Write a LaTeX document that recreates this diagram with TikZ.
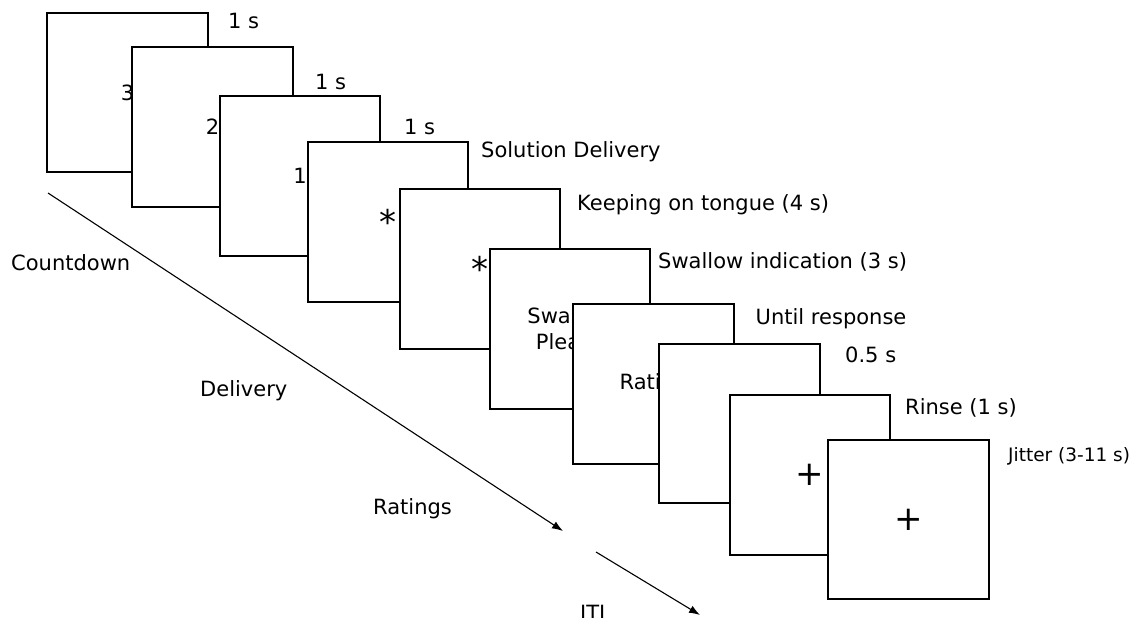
\documentclass[tikz,border=0pt]{standalone}
\usepackage{fontspec}
\setmainfont{DejaVu Sans}
\usetikzlibrary{arrows.meta}
\tikzset{
  screen/.style={draw, line width=2.3pt, fill=white, minimum width=160.5pt, minimum height=159.5pt, inner sep=0pt, font=\fontsize{21}{26}\selectfont, align=center},
  lbl/.style={anchor=base west, inner sep=0pt, font=\fontsize{21}{25}\selectfont},
  small/.style={anchor=base west, inner sep=0pt, font=\fontsize{18.5}{22}\selectfont},
  timeline/.style={line width=1.1pt, -{Latex[length=11pt,width=8pt]}}
}
\begin{document}
\begin{tikzpicture}[x=1pt,y=-1pt]
\useasboundingbox (0,0) rectangle (1133,618);
% screens
\node[screen] (s1) at (127.5,92.5) {3};
\node[screen] (s2) at (212.5,127) {2};
\node[screen] (s3) at (300,176) {1};
\node[screen] (s4) at (388,222) {\fontsize{34}{34}\selectfont *};
\node[screen] (s5) at (480,269) {\fontsize{34}{34}\selectfont *};
\node[screen] (s6) at (570,329) {Swallow\\Please};
\node[screen] (s7) at (653.5,384) {Rating};
\node[screen] (s8) at (739.5,423.5) {};
\node[screen] (s9) at (810,475) {\fontsize{34}{34}\selectfont +};
\node[screen] (s10) at (908.5,519.5) {\fontsize{34}{34}\selectfont +};
% duration labels
\node[lbl] (d1) at (228,29) {1 s};
\node[lbl] (d2) at (315,89) {1 s};
\node[lbl] (d3) at (404,134) {1 s};
\node[lbl] (d4) at (481,157) {Solution Delivery};
\node[lbl] (d5) at (577,210.5) {Keeping on tongue (4 s)};
\node[lbl] (d6) at (658,268) {Swallow indication (3 s)};
\node[lbl] (d7) at (755.5,324.5) {Until response};
\node[lbl] (d8) at (845,362.5) {0.5 s};
\node[lbl] (d9) at (905,414) {Rinse (1 s)};
\node[small] (d10) at (1008,461) {Jitter (3-11 s)};
% phase labels
\node[lbl] (p1) at (11,270.5) {Countdown};
\node[lbl] (p2) at (200,396) {Delivery};
\node[lbl] (p3) at (373,514) {Ratings};
\node[lbl] (p4) at (580,620) {ITI};
% timeline arrows
\coordinate (t1a) at (48,193);
\coordinate (t1b) at (563,531);
\coordinate (t2a) at (596,552);
\coordinate (t2b) at (700,615);
\draw[timeline] (t1a) -- (t1b);
\draw[timeline] (t2a) -- (t2b);
\end{tikzpicture}
\end{document}
